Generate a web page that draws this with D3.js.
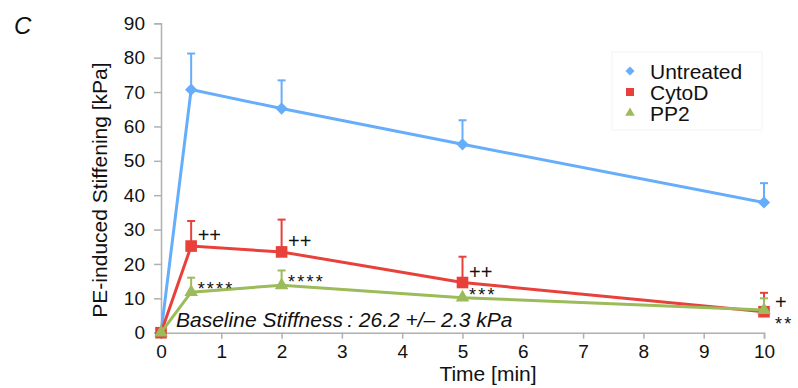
<!DOCTYPE html>
<html><head><meta charset="utf-8">
<script src="https://cdn.jsdelivr.net/npm/d3@7"></script>
<style>body{margin:0;background:#fff}svg{display:block}text{font-family:"Liberation Sans",Arial,sans-serif}</style>
</head><body><svg id="c" width="798" height="388"></svg>
<script>
const times = [0, 0.5, 2, 5, 10];
const untreated = [0, 70.7, 65.2, 54.8, 37.9];
const untreatedErr = [0, 10.5, 8.2, 7.0, 5.6];
const cytoD = [0, 25.2, 23.5, 14.6, 6.1];
const cytoDErr = [0, 7.3, 9.4, 7.5, 5.5];
const pp2 = [0, 11.8, 13.8, 10.2, 6.6];
const pp2Err = [0, 4.2, 4.3, 0, 3.4];
const cytoDLabels = ["", "++", "++", "++", "+"];
const pp2Labels = ["", "****", "****", "***", "**"];
const yTicks = [0,10,20,30,40,50,60,70,80,90];
const xTicks = [0,1,2,3,4,5,6,7,8,9,10];
const seriesNames = ["Untreated", "CytoD", "PP2"];

const svg = d3.select("#c");
const x = d3.scaleLinear().domain([0,10]).range([161,764]);
const y = d3.scaleLinear().domain([0,90]).range([332.7,23.3]);

const axisCol = "#b0b0b0";
const yAxis = svg.append("g").attr("transform","translate(161,0)")
  .call(d3.axisLeft(y).tickValues(yTicks).tickSize(7).tickPadding(9));
const xAxis = svg.append("g").attr("transform","translate(0,332.7)")
  .call(d3.axisBottom(x).tickValues(xTicks).tickSize(6).tickPadding(6));
[yAxis,xAxis].forEach(g=>{
  g.select(".domain").attr("stroke",axisCol).attr("stroke-width",1.5);
  g.selectAll(".tick line").attr("stroke",axisCol).attr("stroke-width",1.5);
  g.selectAll(".tick text").attr("fill","#111").style("font-size","19px").style("font-family","'Liberation Sans',Arial,sans-serif");
});

svg.append("text").attr("x",14).attr("y",34).text("C")
  .style("font-size","24px").style("font-style","italic").attr("fill","#111");
svg.append("text").attr("transform","translate(107,190) rotate(-90)").attr("text-anchor","middle")
  .text("PE-induced Stiffening [kPa]").style("font-size","21px").attr("fill","#111");
svg.append("text").attr("x",488).attr("y",381).attr("text-anchor","middle")
  .text("Time [min]").style("font-size","21px").attr("fill","#111");
svg.append("text").attr("x",176).attr("y",327)
  .text("Baseline Stiffness\u2009: 26.2 +/\u2013 2.3 kPa").style("font-size","21px").style("font-style","italic").attr("fill","#111");

const diamond = {draw(ctx,size){const r=Math.sqrt(size/2);ctx.moveTo(0,-r);ctx.lineTo(r,0);ctx.lineTo(0,r);ctx.lineTo(-r,0);ctx.closePath();}};
const series = [
  {name:seriesNames[0], vals:untreated, err:untreatedErr, color:"#67aefa", sym:diamond, size:75, lsize:40},
  {name:seriesNames[1], vals:cytoD, err:cytoDErr, color:"#e8403b", sym:d3.symbolSquare, size:135, lsize:64},
  {name:seriesNames[2], vals:pp2, err:pp2Err, color:"#9cbb5a", sym:d3.symbolTriangle, size:80, lsize:40}
];
const line = d3.line().x(d=>x(d[0])).y(d=>y(d[1]));
series.forEach(s=>{
  const pts = times.map((t,i)=>[t,s.vals[i],s.err[i]]);
  const g = svg.append("g");
  pts.forEach(p=>{
    if(p[2]>0){
      g.append("line").attr("x1",x(p[0])).attr("x2",x(p[0])).attr("y1",y(p[1])).attr("y2",y(p[1]+p[2]))
        .attr("stroke",s.color).attr("stroke-width",2);
      g.append("line").attr("x1",x(p[0])-4).attr("x2",x(p[0])+4).attr("y1",y(p[1]+p[2])).attr("y2",y(p[1]+p[2]))
        .attr("stroke",s.color).attr("stroke-width",2);
    }
  });
  g.append("path").attr("d",line(pts)).attr("fill","none").attr("stroke",s.color).attr("stroke-width",3);
  g.selectAll("path.m").data(pts).join("path").attr("class","m")
    .attr("transform",d=>`translate(${x(d[0])},${y(d[1])})`)
    .attr("d",d3.symbol().type(s.sym).size(s.size)).attr("fill",s.color);
});

// significance labels
const labs = svg.append("g").attr("fill","#111");
cytoD.forEach((v,i)=>{
  if(!cytoDLabels[i]) return;
  const last = i===times.length-1;
  labs.append("text").attr("x",x(times[i])+(last?11:6.5)).attr("y",y(v)+(last?-3:-4))
    .text(cytoDLabels[i]).style("font-size","20px");
});
pp2.forEach((v,i)=>{
  if(!pp2Labels[i]) return;
  const last = i===times.length-1;
  labs.append("text").attr("x",x(times[i])+(last?11:6.5)).attr("y",y(v)+(last?19.5:3))
    .text(pp2Labels[i]).style("font-size","18px").style("letter-spacing","2.2px");
});

// legend
const lg = svg.append("g");
lg.append("rect").attr("x",612).attr("y",52).attr("width",150).attr("height",78).attr("fill","none").attr("stroke","#f3f3f3");
series.forEach((s,i)=>{
  const yy = 71 + i*21;
  lg.append("path").attr("transform",`translate(630,${yy})`).attr("d",d3.symbol().type(s.sym).size(s.lsize)).attr("fill",s.color);
  lg.append("text").attr("x",650).attr("y",yy+7.5).text(s.name).style("font-size","21px").attr("fill","#111");
});
</script></body></html>
